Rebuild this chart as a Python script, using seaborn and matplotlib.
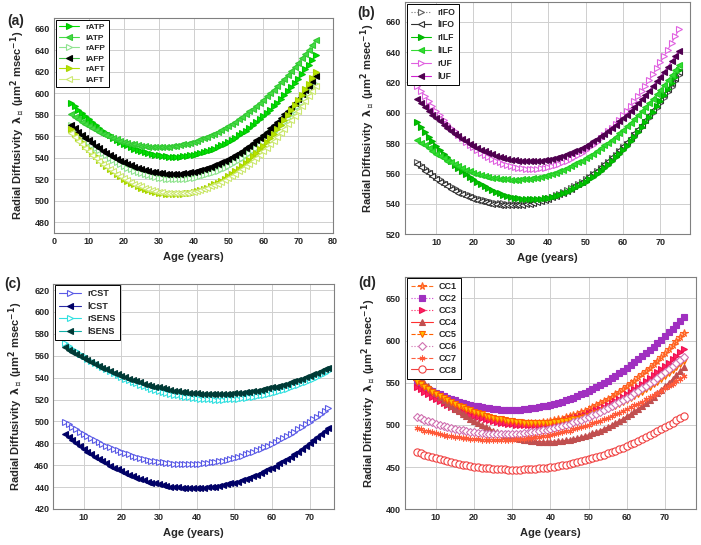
import matplotlib
matplotlib.use("Agg")
import matplotlib.pyplot as plt
import seaborn as sns

# ---------------- data ----------------
age = list(range(5, 76))

# panel (a)
rATP = [591.2, 587.9, 584.6, 581.5, 578.5, 575.6, 572.9, 570.2, 567.7, 565.3, 562.9, 560.8, 558.7, 556.7, 554.9, 553.1, 551.5, 550.0, 548.6, 547.4, 546.2, 545.2, 544.3, 543.4, 542.8, 542.2, 541.7, 541.4, 541.1, 541.0, 541.0, 541.1, 541.4, 541.7, 542.2, 542.8, 543.4, 544.3, 545.2, 546.2, 547.4, 548.6, 550.0, 551.5, 553.1, 554.9, 556.7, 558.7, 560.8, 562.9, 565.3, 567.7, 570.2, 572.9, 575.6, 578.5, 581.5, 584.6, 587.9, 591.2, 594.7, 598.3, 602.0, 605.8, 609.7, 613.7, 617.9, 622.1, 626.5, 631.0, 635.6]
lATP = [580.6, 578.2, 575.9, 573.7, 571.6, 569.6, 567.7, 565.9, 564.2, 562.5, 561.0, 559.6, 558.3, 557.1, 555.9, 554.9, 554.0, 553.1, 552.4, 551.8, 551.2, 550.8, 550.4, 550.2, 550.0, 550.0, 550.0, 550.2, 550.4, 550.8, 551.2, 551.8, 552.4, 553.1, 554.0, 554.9, 555.9, 557.1, 558.3, 559.6, 561.0, 562.5, 564.2, 565.9, 567.7, 569.6, 571.6, 573.7, 575.9, 578.2, 580.6, 583.1, 585.7, 588.4, 591.2, 594.1, 597.1, 600.2, 603.4, 606.6, 610.0, 613.5, 617.1, 620.8, 624.5, 628.4, 632.4, 636.4, 640.6, 644.9, 649.2]
rAFP = [570.0, 566.7, 563.5, 560.5, 557.5, 554.7, 552.0, 549.4, 546.9, 544.5, 542.2, 540.0, 538.0, 536.0, 534.2, 532.5, 530.9, 529.4, 528.0, 526.7, 525.6, 524.5, 523.6, 522.7, 522.0, 521.4, 520.9, 520.5, 520.2, 520.1, 520.0, 520.1, 520.2, 520.5, 520.9, 521.4, 522.0, 522.7, 523.6, 524.5, 525.6, 526.7, 528.0, 529.4, 530.9, 532.5, 534.2, 536.0, 538.0, 540.0, 542.2, 544.5, 546.9, 549.4, 552.0, 554.7, 557.5, 560.5, 563.5, 566.7, 570.0, 573.3, 576.8, 580.4, 584.2, 588.0, 591.9, 596.0, 600.1, 604.4, 608.8]
lAFP = [570.4, 567.3, 564.4, 561.5, 558.8, 556.1, 553.6, 551.1, 548.8, 546.6, 544.5, 542.5, 540.6, 538.8, 537.2, 535.6, 534.1, 532.8, 531.5, 530.4, 529.4, 528.5, 527.6, 526.9, 526.4, 525.9, 525.5, 525.2, 525.1, 525.0, 525.1, 525.2, 525.5, 525.9, 526.4, 526.9, 527.6, 528.5, 529.4, 530.4, 531.5, 532.8, 534.1, 535.6, 537.2, 538.8, 540.6, 542.5, 544.5, 546.6, 548.8, 551.1, 553.6, 556.1, 558.8, 561.5, 564.4, 567.3, 570.4, 573.6, 576.9, 580.3, 583.8, 587.4, 591.2, 595.0, 598.9, 603.0, 607.1, 611.4, 615.8]
rAFT = [566.5, 562.5, 558.6, 554.8, 551.2, 547.7, 544.4, 541.2, 538.1, 535.2, 532.4, 529.8, 527.3, 524.9, 522.7, 520.6, 518.7, 516.9, 515.2, 513.7, 512.3, 511.0, 509.9, 508.9, 508.1, 507.4, 506.9, 506.4, 506.2, 506.0, 506.0, 506.2, 506.4, 506.9, 507.4, 508.1, 508.9, 509.9, 511.0, 512.3, 513.7, 515.2, 516.9, 518.7, 520.6, 522.7, 524.9, 527.3, 529.8, 532.4, 535.2, 538.1, 541.2, 544.4, 547.7, 551.2, 554.8, 558.6, 562.5, 566.5, 570.6, 575.0, 579.4, 584.0, 588.7, 593.6, 598.6, 603.7, 609.0, 614.4, 620.0]
lAFT = [563.3, 559.6, 556.0, 552.6, 549.3, 546.1, 543.0, 540.1, 537.3, 534.6, 532.0, 529.6, 527.3, 525.1, 523.0, 521.1, 519.3, 517.6, 516.0, 514.6, 513.3, 512.1, 511.0, 510.1, 509.3, 508.6, 508.0, 507.6, 507.3, 507.1, 507.0, 507.1, 507.3, 507.6, 508.0, 508.6, 509.3, 510.1, 511.0, 512.1, 513.3, 514.6, 516.0, 517.6, 519.3, 521.1, 523.0, 525.1, 527.3, 529.6, 532.0, 534.6, 537.3, 540.1, 543.0, 546.1, 549.3, 552.6, 556.0, 559.6, 563.3, 567.1, 571.0, 575.1, 579.3, 583.6, 588.0, 592.6, 597.3, 602.1, 607.0]

# panel (b)
rIFO = [567.8, 565.6, 563.6, 561.6, 559.7, 557.9, 556.2, 554.6, 553.1, 551.6, 550.3, 549.0, 547.8, 546.7, 545.7, 544.7, 543.9, 543.1, 542.4, 541.8, 541.3, 540.9, 540.5, 540.3, 540.1, 540.0, 540.0, 540.1, 540.3, 540.5, 540.9, 541.3, 541.8, 542.4, 543.1, 543.9, 544.7, 545.7, 546.7, 547.8, 549.0, 550.3, 551.6, 553.1, 554.6, 556.2, 557.9, 559.7, 561.6, 563.6, 565.6, 567.8, 570.0, 572.3, 574.7, 577.2, 579.7, 582.4, 585.1, 587.9, 590.8, 593.8, 596.9, 600.1, 603.3, 606.6, 610.0, 613.5, 617.1, 620.8, 624.6]
lIFO = [566.2, 564.1, 562.0, 560.1, 558.2, 556.4, 554.7, 553.1, 551.6, 550.1, 548.8, 547.5, 546.4, 545.3, 544.3, 543.4, 542.5, 541.8, 541.1, 540.6, 540.1, 539.7, 539.4, 539.2, 539.0, 539.0, 539.0, 539.2, 539.4, 539.7, 540.1, 540.6, 541.1, 541.8, 542.5, 543.4, 544.3, 545.3, 546.4, 547.5, 548.8, 550.1, 551.6, 553.1, 554.7, 556.4, 558.2, 560.1, 562.0, 564.1, 566.2, 568.4, 570.7, 573.1, 575.6, 578.2, 580.8, 583.5, 586.4, 589.3, 592.3, 595.4, 598.6, 601.8, 605.2, 608.6, 612.1, 615.7, 619.4, 623.2, 627.1]
rILF = [593.7, 590.4, 587.3, 584.2, 581.3, 578.4, 575.7, 573.1, 570.6, 568.2, 565.9, 563.7, 561.7, 559.7, 557.8, 556.1, 554.5, 552.9, 551.5, 550.2, 549.0, 547.9, 546.9, 546.1, 545.3, 544.7, 544.1, 543.7, 543.3, 543.1, 543.0, 543.0, 543.1, 543.3, 543.7, 544.1, 544.7, 545.3, 546.1, 546.9, 547.9, 549.0, 550.2, 551.5, 552.9, 554.5, 556.1, 557.8, 559.7, 561.7, 563.7, 565.9, 568.2, 570.6, 573.1, 575.7, 578.4, 581.3, 584.2, 587.3, 590.4, 593.7, 597.1, 600.6, 604.2, 607.9, 611.7, 615.6, 619.6, 623.8, 628.0]
lILF = [582.4, 580.4, 578.5, 576.6, 574.9, 573.2, 571.6, 570.1, 568.6, 567.3, 566.0, 564.8, 563.6, 562.6, 561.6, 560.7, 559.9, 559.2, 558.5, 557.9, 557.4, 557.0, 556.6, 556.4, 556.2, 556.0, 556.0, 556.0, 556.2, 556.4, 556.6, 557.0, 557.4, 557.9, 558.5, 559.2, 559.9, 560.7, 561.6, 562.6, 563.6, 564.8, 566.0, 567.3, 568.6, 570.1, 571.6, 573.2, 574.9, 576.6, 578.5, 580.4, 582.4, 584.4, 586.6, 588.8, 591.1, 593.5, 595.9, 598.5, 601.1, 603.8, 606.5, 609.4, 612.3, 615.3, 618.4, 621.6, 624.8, 628.1, 631.5]
rUF = [618.0, 614.4, 611.0, 607.7, 604.5, 601.4, 598.5, 595.6, 592.9, 590.3, 587.8, 585.5, 583.2, 581.1, 579.1, 577.2, 575.4, 573.8, 572.2, 570.8, 569.5, 568.3, 567.3, 566.3, 565.5, 564.8, 564.2, 563.7, 563.4, 563.1, 563.0, 563.0, 563.1, 563.4, 563.7, 564.2, 564.8, 565.5, 566.3, 567.3, 568.3, 569.5, 570.8, 572.2, 573.8, 575.4, 577.2, 579.1, 581.1, 583.2, 585.5, 587.8, 590.3, 592.9, 595.6, 598.5, 601.4, 604.5, 607.7, 611.0, 614.4, 618.0, 621.6, 625.4, 629.3, 633.3, 637.5, 641.7, 646.1, 650.6, 655.2]
lUF = [609.0, 606.4, 603.8, 601.2, 598.8, 596.5, 594.3, 592.1, 590.1, 588.1, 586.2, 584.5, 582.8, 581.2, 579.7, 578.3, 576.9, 575.7, 574.6, 573.5, 572.6, 571.7, 570.9, 570.2, 569.6, 569.1, 568.7, 568.4, 568.2, 568.0, 568.0, 568.0, 568.2, 568.4, 568.7, 569.1, 569.6, 570.2, 570.9, 571.7, 572.6, 573.5, 574.6, 575.7, 576.9, 578.3, 579.7, 581.2, 582.8, 584.5, 586.2, 588.1, 590.1, 592.1, 594.3, 596.5, 598.8, 601.2, 603.8, 606.4, 609.0, 611.8, 614.7, 617.7, 620.7, 623.9, 627.1, 630.4, 633.9, 637.4, 641.0]

# panel (c)
rCST = [499.6, 497.2, 495.0, 492.8, 490.7, 488.6, 486.6, 484.7, 482.9, 481.2, 479.5, 477.9, 476.3, 474.9, 473.5, 472.2, 470.9, 469.8, 468.7, 467.7, 466.7, 465.8, 465.0, 464.3, 463.6, 463.1, 462.5, 462.1, 461.7, 461.5, 461.2, 461.1, 461.0, 461.0, 461.1, 461.2, 461.5, 461.7, 462.1, 462.5, 463.1, 463.6, 464.3, 465.0, 465.8, 466.7, 467.7, 468.7, 469.8, 470.9, 472.2, 473.5, 474.9, 476.3, 477.9, 479.5, 481.2, 482.9, 484.7, 486.6, 488.6, 490.7, 492.8, 495.0, 497.2, 499.6, 502.0, 504.4, 507.0, 509.6, 512.3]
lCST = [488.4, 485.5, 482.7, 480.0, 477.4, 474.9, 472.5, 470.1, 467.9, 465.7, 463.6, 461.6, 459.7, 457.8, 456.1, 454.4, 452.8, 451.3, 449.9, 448.6, 447.4, 446.2, 445.1, 444.2, 443.3, 442.5, 441.7, 441.1, 440.5, 440.1, 439.7, 439.4, 439.2, 439.0, 439.0, 439.0, 439.2, 439.4, 439.7, 440.1, 440.5, 441.1, 441.7, 442.5, 443.3, 444.2, 445.1, 446.2, 447.4, 448.6, 449.9, 451.3, 452.8, 454.4, 456.1, 457.8, 459.7, 461.6, 463.6, 465.7, 467.9, 470.1, 472.5, 474.9, 477.4, 480.0, 482.7, 485.5, 488.4, 491.3, 494.3]
rSENS = [571.3, 568.8, 566.4, 564.0, 561.8, 559.5, 557.4, 555.3, 553.2, 551.2, 549.3, 547.5, 545.7, 543.9, 542.2, 540.6, 539.1, 537.6, 536.1, 534.8, 533.5, 532.2, 531.0, 529.9, 528.8, 527.8, 526.9, 526.0, 525.2, 524.4, 523.7, 523.1, 522.5, 522.0, 521.5, 521.1, 520.8, 520.5, 520.3, 520.1, 520.0, 520.0, 520.0, 520.1, 520.3, 520.5, 520.8, 521.1, 521.5, 522.0, 522.5, 523.1, 523.7, 524.4, 525.2, 526.0, 526.9, 527.8, 528.8, 529.9, 531.0, 532.2, 533.5, 534.8, 536.1, 537.6, 539.1, 540.6, 542.2, 543.9, 545.7]
lSENS = [567.7, 565.6, 563.6, 561.6, 559.6, 557.7, 555.9, 554.1, 552.3, 550.7, 549.0, 547.5, 545.9, 544.5, 543.1, 541.7, 540.4, 539.1, 537.9, 536.8, 535.7, 534.6, 533.7, 532.7, 531.8, 531.0, 530.2, 529.5, 528.8, 528.2, 527.7, 527.2, 526.7, 526.3, 526.0, 525.7, 525.4, 525.2, 525.1, 525.0, 525.0, 525.0, 525.1, 525.2, 525.4, 525.7, 526.0, 526.3, 526.7, 527.2, 527.7, 528.2, 528.8, 529.5, 530.2, 531.0, 531.8, 532.7, 533.7, 534.6, 535.7, 536.8, 537.9, 539.1, 540.4, 541.7, 543.1, 544.5, 545.9, 547.5, 549.0]

# panel (d)
CC1 = [552.7, 549.2, 545.8, 542.6, 539.5, 536.5, 533.6, 530.8, 528.2, 525.7, 523.4, 521.1, 519.0, 517.0, 515.1, 513.4, 511.8, 510.3, 508.9, 507.6, 506.5, 505.5, 504.6, 503.9, 503.3, 502.8, 502.4, 502.1, 502.0, 502.0, 502.1, 502.4, 502.8, 503.3, 503.9, 504.6, 505.5, 506.5, 507.6, 508.9, 510.3, 511.8, 513.4, 515.1, 517.0, 519.0, 521.1, 523.4, 525.7, 528.2, 530.8, 533.6, 536.5, 539.5, 542.6, 545.8, 549.2, 552.7, 556.3, 560.1, 563.9, 567.9, 572.0, 576.3, 580.6, 585.1, 589.8, 594.5, 599.4, 604.4, 609.5]
CC2 = [550.0, 547.4, 545.0, 542.6, 540.4, 538.3, 536.2, 534.3, 532.5, 530.8, 529.2, 527.7, 526.3, 525.1, 523.9, 522.8, 521.9, 521.0, 520.3, 519.6, 519.1, 518.7, 518.3, 518.1, 518.0, 518.0, 518.1, 518.3, 518.7, 519.1, 519.6, 520.3, 521.0, 521.9, 522.8, 523.9, 525.1, 526.3, 527.7, 529.2, 530.8, 532.5, 534.3, 536.2, 538.3, 540.4, 542.6, 545.0, 547.4, 550.0, 552.7, 555.4, 558.3, 561.3, 564.4, 567.6, 570.9, 574.3, 577.8, 581.4, 585.2, 589.0, 593.0, 597.0, 601.2, 605.4, 609.8, 614.3, 618.9, 623.6, 628.3]
CC3 = [545.3, 542.3, 539.3, 536.4, 533.7, 531.1, 528.5, 526.1, 523.8, 521.6, 519.5, 517.5, 515.6, 513.8, 512.1, 510.6, 509.1, 507.8, 506.5, 505.4, 504.4, 503.5, 502.6, 501.9, 501.4, 500.9, 500.5, 500.2, 500.1, 500.0, 500.1, 500.2, 500.5, 500.9, 501.4, 501.9, 502.6, 503.5, 504.4, 505.4, 506.5, 507.8, 509.1, 510.6, 512.1, 513.8, 515.6, 517.5, 519.5, 521.6, 523.8, 526.1, 528.5, 531.1, 533.7, 536.4, 539.3, 542.3, 545.3, 548.5, 551.8, 555.2, 558.7, 562.3, 566.0, 569.9, 573.8, 577.8, 582.0, 586.2, 590.6]
CC4 = [559.2, 554.6, 550.1, 545.8, 541.7, 537.6, 533.7, 529.9, 526.3, 522.8, 519.5, 516.2, 513.2, 510.2, 507.4, 504.7, 502.2, 499.8, 497.5, 495.4, 493.4, 491.6, 489.9, 488.3, 486.9, 485.5, 484.4, 483.4, 482.5, 481.7, 481.1, 480.6, 480.3, 480.1, 480.0, 480.1, 480.3, 480.6, 481.1, 481.7, 482.5, 483.4, 484.4, 485.5, 486.9, 488.3, 489.9, 491.6, 493.4, 495.4, 497.5, 499.8, 502.2, 504.7, 507.4, 510.2, 513.2, 516.2, 519.5, 522.8, 526.3, 529.9, 533.7, 537.6, 541.7, 545.8, 550.1, 554.6, 559.2, 563.9, 568.8]
CC5 = [551.3, 548.2, 545.3, 542.4, 539.6, 536.9, 534.3, 531.8, 529.5, 527.2, 525.0, 522.9, 520.9, 519.0, 517.2, 515.5, 513.9, 512.5, 511.1, 509.8, 508.6, 507.5, 506.5, 505.6, 504.8, 504.1, 503.5, 503.0, 502.6, 502.3, 502.1, 502.0, 502.0, 502.1, 502.3, 502.6, 503.0, 503.5, 504.1, 504.8, 505.6, 506.5, 507.5, 508.6, 509.8, 511.1, 512.5, 513.9, 515.5, 517.2, 519.0, 520.9, 522.9, 525.0, 527.2, 529.5, 531.8, 534.3, 536.9, 539.6, 542.4, 545.3, 548.2, 551.3, 554.5, 557.8, 561.2, 564.6, 568.2, 571.9, 575.7]
CC6 = [509.7, 507.9, 506.2, 504.5, 503.0, 501.5, 500.1, 498.8, 497.6, 496.4, 495.4, 494.4, 493.5, 492.7, 492.0, 491.3, 490.7, 490.2, 489.8, 489.5, 489.3, 489.1, 489.0, 489.0, 489.1, 489.3, 489.5, 489.8, 490.2, 490.7, 491.3, 492.0, 492.7, 493.5, 494.4, 495.4, 496.4, 497.6, 498.8, 500.1, 501.5, 503.0, 504.5, 506.2, 507.9, 509.7, 511.5, 513.5, 515.5, 517.7, 519.9, 522.1, 524.5, 527.0, 529.5, 532.1, 534.8, 537.6, 540.4, 543.4, 546.4, 549.5, 552.7, 555.9, 559.3, 562.7, 566.2, 569.8, 573.5, 577.2, 581.1]
CC7 = [496.0, 494.7, 493.4, 492.3, 491.2, 490.1, 489.1, 488.2, 487.4, 486.6, 485.8, 485.2, 484.6, 484.0, 483.6, 483.1, 482.8, 482.5, 482.3, 482.1, 482.0, 482.0, 482.0, 482.1, 482.3, 482.5, 482.8, 483.1, 483.6, 484.0, 484.6, 485.2, 485.8, 486.6, 487.4, 488.2, 489.1, 490.1, 491.2, 492.3, 493.4, 494.7, 496.0, 497.3, 498.8, 500.3, 501.8, 503.4, 505.1, 506.9, 508.7, 510.5, 512.5, 514.5, 516.5, 518.7, 520.8, 523.1, 525.4, 527.8, 530.2, 532.7, 535.3, 537.9, 540.6, 543.4, 546.2, 549.1, 552.0, 555.0, 558.1]
CC8 = [468.0, 466.4, 464.8, 463.4, 461.9, 460.6, 459.3, 458.1, 456.9, 455.8, 454.8, 453.8, 452.9, 452.1, 451.3, 450.6, 449.9, 449.3, 448.8, 448.4, 448.0, 447.7, 447.4, 447.2, 447.1, 447.0, 447.0, 447.1, 447.2, 447.4, 447.7, 448.0, 448.4, 448.8, 449.3, 449.9, 450.6, 451.3, 452.1, 452.9, 453.8, 454.8, 455.8, 456.9, 458.1, 459.3, 460.6, 461.9, 463.4, 464.8, 466.4, 468.0, 469.7, 471.4, 473.2, 475.1, 477.1, 479.1, 481.1, 483.3, 485.5, 487.7, 490.0, 492.4, 494.9, 497.4, 500.0, 502.6, 505.3, 508.1, 511.0]

series_a = {"rATP": rATP, "lATP": lATP, "rAFP": rAFP, "lAFP": lAFP, "rAFT": rAFT, "lAFT": lAFT}
series_b = {"rIFO": rIFO, "lIFO": lIFO, "rILF": rILF, "lILF": lILF, "rUF": rUF, "lUF": lUF}
series_c = {"rCST": rCST, "lCST": lCST, "rSENS": rSENS, "lSENS": lSENS}
series_d = {"CC1": CC1, "CC2": CC2, "CC3": CC3, "CC4": CC4, "CC5": CC5, "CC6": CC6, "CC7": CC7, "CC8": CC8}

# ---------------- styles ----------------
# (line color, marker, face, edge, linestyle, markersize)
styles = {
    "rATP": ("#00e000", ">", "#00e000", "#00c400", "-", 4.6),
    "lATP": ("#44dd44", "<", "#44dd44", "#33c833", "-", 4.6),
    "rAFP": ("#8fe38f", ">", "white", "#8fe38f", "-", 4.6),
    "lAFP": ("#44c044", "<", "black", "black", "-", 3.8),
    "rAFT": ("#b2e000", ">", "#b8e400", "#a8d400", "-", 4.6),
    "lAFT": ("#d2ee80", "<", "white", "#cce870", "-", 4.6),
    "rIFO": ("#707070", ">", "white", "#606060", ":", 5.0),
    "lIFO": ("#303030", "<", "white", "#303030", "-", 5.0),
    "rILF": ("#00c400", ">", "#00c400", "#00b000", "-", 5.0),
    "lILF": ("#33dd33", "<", "#33dd33", "#22cc22", "-", 5.0),
    "rUF": ("#e060e0", ">", "white", "#e060e0", "-", 5.0),
    "lUF": ("#d020d0", "<", "#500050", "#500050", "-", 4.6),
    "rCST": ("#5a5ae6", ">", "white", "#5a5ae6", "-", 4.8),
    "lCST": ("#2a2aa8", "<", "#000066", "#000066", "-", 4.6),
    "rSENS": ("#30e0e0", ">", "white", "#30e0e0", "-", 4.8),
    "lSENS": ("#10b0a8", "<", "#003a36", "#003a36", "-", 4.6),
    "CC1": ("#ff7020", "*", "#ffa060", "#ff6020", "--", 5.5),
    "CC2": ("#d040d0", "s", "#a030c0", "#a030c0", ":", 4.2),
    "CC3": ("#ff2060", ">", "#ff2060", "#ee1050", ":", 5.0),
    "CC4": ("#ff3030", "^", "#c05050", "#c05050", "-", 4.8),
    "CC5": ("#ff6000", "v", "#ffc000", "#ff6000", "--", 4.8),
    "CC6": ("#d070b0", "D", "white", "#d070b0", ":", 4.0),
    "CC7": ("#ff6040", (6, 2, 0), "#ff5a3a", "#ff5a3a", "--", 4.2),
    "CC8": ("#f04040", "o", "white", "#f04040", "-", 5.2),
}

# ---------------- figure ----------------
sns.set_style("whitegrid")
plt.rcParams["font.family"] = ["Liberation Sans", "DejaVu Sans"]
plt.rcParams["font.weight"] = "bold"
plt.rcParams["axes.labelweight"] = "bold"
plt.rcParams["mathtext.fontset"] = "dejavusans"
plt.rcParams["mathtext.default"] = "bf"

W, H = 701, 545
fig = plt.figure(figsize=(W / 100, H / 100), dpi=100)
fig.patch.set_facecolor("white")


def box(l, t, r, b):
    return [l / W, 1 - b / H, (r - l) / W, (b - t) / H]


# tag, series, axes box, xlim, xticks, ylim, yticks, tag position,
# ylabel x-coord, legend font size, legend label spacing
panels = [
    ("(a)", series_a, box(54, 18, 333, 233), (0, 80), list(range(0, 81, 10)),
     (470, 670), list(range(480, 661, 20)), (16, 21), -0.097, 6.0, 0.32),
    ("(b)", series_b, box(405, 2, 690, 234.3), (1.7, 77.9), list(range(10, 71, 10)),
     (520, 673), list(range(520, 661, 20)), (366, 13), -0.098, 6.2, 0.45),
    ("(c)", series_c, box(53.5, 283.5, 334, 509), (2, 76.5), list(range(10, 71, 10)),
     (420, 626), list(range(420, 621, 20)), (13, 284), -0.102, 6.6, 0.38),
    ("(d)", series_d, box(405, 276.5, 695.5, 509.3), (1.9, 78), list(range(10, 71, 10)),
     (400, 676), list(range(400, 651, 50)), (367, 283), -0.093, 6.5, 0.32),
]

ylab = "Radial Diffusivity  $\\lambda_{\\perp}$ (μm$^{2}$ msec$^{-1}$)"

for tag, series, pos, xl, xt, yl, yt, tagpos, ylx, lfs, lsp in panels:
    ax = fig.add_axes(pos)
    ax.set_facecolor("white")
    for name, vals in series.items():
        lc, mk, fc, ec, ls, ms = styles[name]
        sns.lineplot(x=age, y=vals, ax=ax, color=lc, linestyle=ls, linewidth=0.8,
                     marker=mk, markersize=ms, markerfacecolor=fc,
                     markeredgecolor=ec, markeredgewidth=0.8,
                     label=name, errorbar=None, legend=False)
    ax.set_xlim(*xl)
    ax.set_ylim(*yl)
    ax.set_xticks(xt)
    ax.set_yticks(yt)
    ax.grid(True, color="#cfcfcf", linewidth=0.7)
    for sp in ax.spines.values():
        sp.set_color("#808080")
        sp.set_linewidth(0.8)
    ax.tick_params(axis="both", labelsize=6.5, length=2, direction="in",
                   color="#808080", pad=3)
    for t in ax.get_xticklabels() + ax.get_yticklabels():
        t.set_fontweight("bold")
    ax.set_xlabel("Age (years)", fontsize=8, fontweight="bold", labelpad=4)
    ax.set_ylabel(ylab, fontsize=8, fontweight="bold")
    ax.yaxis.set_label_coords(ylx, 0.5)
    h, lb = ax.get_legend_handles_labels()
    leg = ax.legend(h, lb, loc="upper left", frameon=True,
                    fancybox=False, framealpha=1, edgecolor="black",
                    borderpad=0.45, labelspacing=lsp, handlelength=2.4,
                    handletextpad=0.7, borderaxespad=0.2,
                    prop={"weight": "bold", "size": lfs})
    leg.get_frame().set_linewidth(0.7)
    fig.text(tagpos[0] / W, 1 - tagpos[1] / H, tag, fontsize=10,
             fontweight="bold", ha="center", va="center")

fig.savefig("out.png", dpi=100, facecolor="white")
